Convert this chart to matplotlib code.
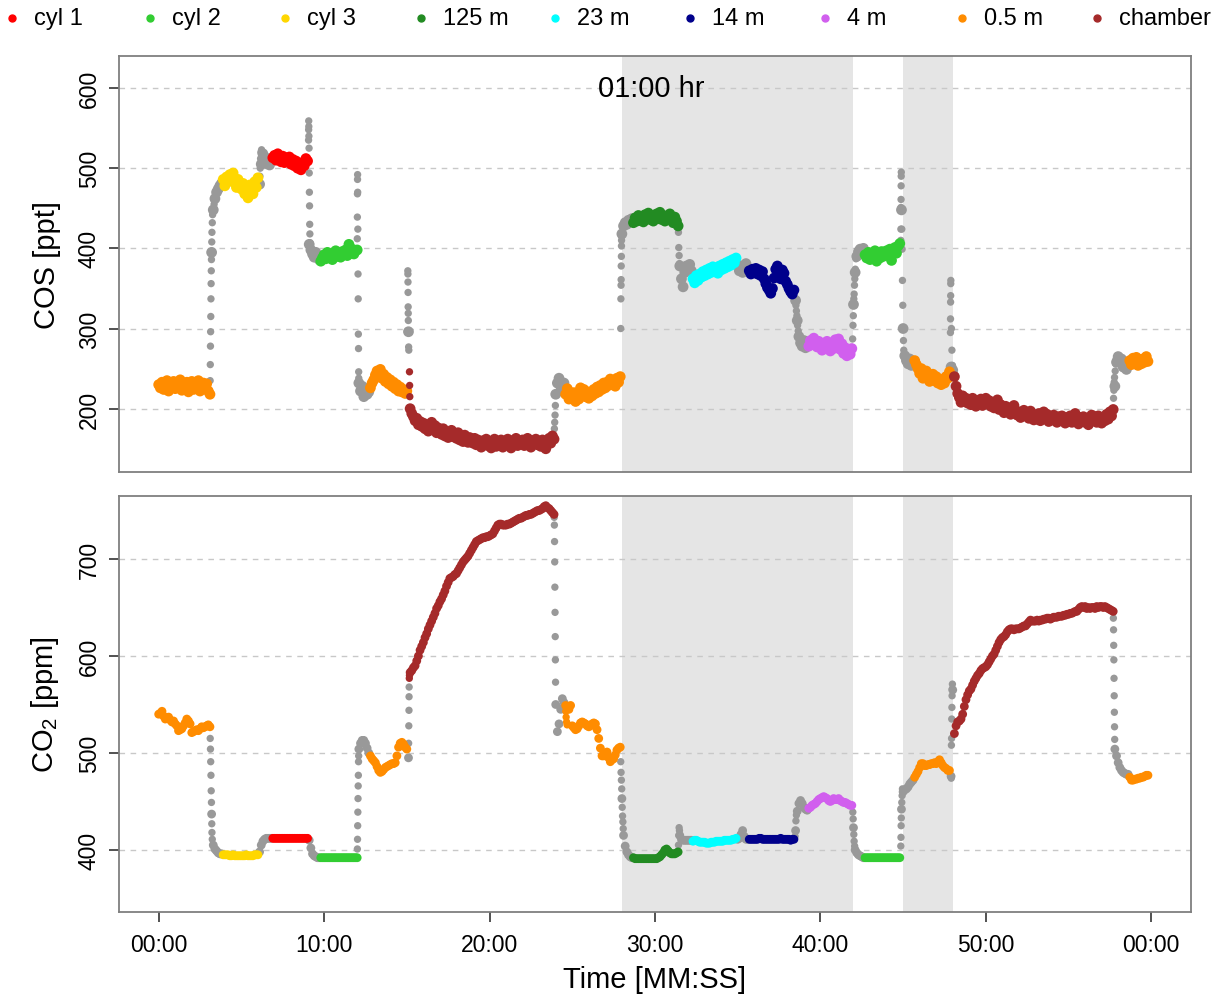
import numpy as np
import matplotlib.pyplot as plt
from matplotlib.lines import Line2D

plt.rcParams['font.family'] = ['Liberation Sans', 'DejaVu Sans']
plt.rcParams['mathtext.fontset'] = 'custom'
plt.rcParams['mathtext.rm'] = 'Liberation Sans'

# inlets and their colours (legend order)
labels = ["cyl 1", "cyl 2", "cyl 3", "125 m", "23 m", "14 m", "4 m", "0.5 m", "chamber"]
colors = ["#FF0000", "#32CD32", "#FFD700", "#228B22", "#00FFFF", "#00008B",
          "#D15FEE", "#FF8C00", "#A52A2A"]
grey = "#999999"

# sampling windows [min]; everything outside is flushing (grey)
win_label = ["0.5 m", "cyl 3", "cyl 1", "cyl 2", "0.5 m", "chamber", "0.5 m", "125 m",
             "23 m", "14 m", "4 m", "cyl 2", "0.5 m", "chamber", "0.5 m"]
win_start = [0.0, 3.9, 6.9, 9.8, 12.8, 15.15, 24.6, 28.7, 32.3, 35.7, 39.3, 42.7, 45.7, 48.05, 58.7]
win_end = [3.1, 6.05, 9.05, 12.0, 15.05, 23.9, 27.9, 31.4, 34.9, 38.45, 41.9, 44.85, 47.85, 57.7, 59.8]

# shaded periods [min]
shade_start = [28, 45]
shade_end = [42, 48]

# COS [ppt], one value every 0.1 min starting at 0, one row per minute
cos_ppt = [
    230, 226, 233, 224, 229, 235, 222, 231, 227, 234,
    225, 232, 228, 236, 223, 230, 226, 233, 221, 229,
    234, 224, 230, 227, 235, 222, 229, 232, 225, 231,
    222, 218, 395, 448, 462, 470, 474, 478, 481, 486,
    478, 489, 483, 492, 485, 494, 482, 476, 486, 479,
    474, 481, 468, 476, 463, 479, 472, 468, 483, 476,
    488, 480, 505, 518, 510, 506, 512, 504, 509, 513,
    516, 510, 518, 512, 508, 515, 507, 513, 509, 514,
    505, 511, 503, 509, 500, 506, 498, 507, 503, 512,
    509, 405, 398, 393, 389, 395, 390, 386, 384, 388,
    392, 387, 395, 389, 393, 386, 391, 397, 390, 394,
    389, 396, 392, 398, 391, 405, 394, 399, 393, 397,
    398, 232, 222, 228, 215, 225, 218, 221, 226, 232,
    236, 242, 247, 240, 249, 238, 243, 234, 239, 231,
    236, 228, 233, 225, 230, 222, 227, 221, 224, 219,
    222, 296, 200, 194, 190, 185, 188, 180, 184, 178,
    182, 175, 180, 172, 178, 183, 174, 179, 170, 176,
    172, 168, 175, 166, 171, 164, 170, 173, 165, 168,
    163, 170, 161, 166, 159, 167, 162, 158, 164, 160,
    157, 163, 155, 161, 158, 152, 160, 156, 162, 154,
    158, 151, 157, 162, 153, 159, 155, 161, 152, 158,
    155, 162, 157, 151, 160, 156, 163, 154, 159, 157,
    161, 154, 159, 163, 156, 152, 160, 157, 162, 155,
    158, 153, 161, 156, 150, 159, 163, 157, 166, 162,
    218, 232, 238, 228, 222, 232, 218, 225, 212, 220,
    214, 220, 209, 218, 212, 226, 219, 224, 215, 221,
    213, 220, 216, 224, 219, 227, 221, 229, 224, 232,
    226, 233, 229, 237, 231, 235, 228, 238, 233, 240,
    418, 428, 432, 430, 435, 433, 437, 432, 438, 434,
    441, 435, 439, 433, 442, 437, 444, 436, 440, 434,
    439, 443, 437, 445, 436, 441, 434, 440, 438, 443,
    437, 432, 439, 434, 428, 378, 362, 352, 370, 378,
    375, 380, 372, 362, 357, 366, 360, 368, 364, 371,
    366, 373, 368, 375, 370, 377, 371, 374, 369, 378,
    373, 380, 375, 382, 377, 384, 379, 386, 382, 388,
    379, 372, 378, 370, 376, 381, 374, 372, 368, 374,
    370, 375, 368, 373, 366, 371, 362, 356, 351, 348,
    344, 350, 363, 374, 378, 371, 362, 373, 369, 359,
    355, 350, 346, 343, 348, 335, 310, 290, 282, 278,
    285, 276, 283, 278, 285, 280, 288, 282, 277, 284,
    279, 273, 281, 276, 284, 278, 272, 280, 275, 286,
    280, 287, 274, 281, 269, 276, 266, 272, 268, 275,
    330, 370, 390, 396, 399, 394, 400, 392, 388, 395,
    386, 394, 389, 397, 384, 392, 388, 396, 390, 393,
    397, 391, 399, 385, 396, 401, 394, 403, 406, 448,
    300, 266, 260, 256, 262, 254, 258, 260, 255, 250,
    244, 250, 238, 243, 247, 241, 234, 239, 243, 235,
    240, 232, 237, 230, 236, 232, 240, 238, 246, 252,
    248, 240, 228, 219, 214, 208, 216, 210, 213, 207,
    211, 205, 213, 208, 203, 210, 206, 212, 204, 209,
    213, 206, 210, 203, 208, 201, 207, 211, 199, 205,
    200, 195, 203, 197, 201, 193, 199, 204, 196, 192,
    196, 189, 194, 198, 191, 195, 188, 197, 192, 186,
    191, 187, 194, 185, 190, 196, 188, 193, 184, 190,
    186, 192, 188, 183, 190, 185, 191, 187, 182, 189,
    185, 191, 183, 188, 194, 186, 181, 189, 184, 190,
    183, 188, 180, 187, 192, 185, 190, 183, 191, 186,
    182, 189, 185, 193, 187, 196, 191, 199, 228, 258,
    265, 258, 262, 252, 256, 249, 254, 260, 255, 263,
    257, 264, 254, 261, 256, 262, 258, 265, 259,
]

# COS samples caught during the fast valve switches
cos_jump_t = [3.11, 3.12, 3.13, 3.14, 3.15, 3.16, 3.17, 3.18, 3.19, 3.21, 3.22, 3.24, 3.26, 3.35,
              6.12, 6.14, 6.16, 6.18, 6.22,
              9.06, 9.065, 9.07, 9.075, 9.08, 9.09, 9.1, 9.11, 9.12, 9.13, 9.14, 9.15,
              12.005, 12.01, 12.015, 12.02, 12.025, 12.03, 12.04, 12.05, 12.06, 12.07, 12.08, 12.09, 12.095,
              15.06, 15.065, 15.07, 15.075, 15.08, 15.085, 15.09, 15.11, 15.12, 15.16, 15.17, 15.18,
              23.92, 23.94, 23.96, 23.98,
              27.93, 27.94, 27.95, 27.955, 27.96, 27.97, 27.975, 27.98, 27.99,
              31.42, 31.44, 31.46, 31.48,
              38.52, 38.55, 38.58, 38.62, 38.66,
              41.95, 41.97, 41.99, 42.02, 42.04, 42.06, 42.08, 42.11, 42.15,
              44.86, 44.865, 44.87, 44.875, 44.88, 44.885, 44.89, 44.92, 44.94, 44.96, 44.98, 45.02, 45.04, 45.06,
              47.86, 47.865, 47.87, 47.875, 47.88, 47.885, 47.92, 47.95, 47.98,
              57.72, 57.74, 57.76, 57.78, 57.82, 57.85, 57.88]
cos_jump_v = [235, 255, 278, 296, 315, 337, 356, 372, 386, 408, 420, 432, 442, 455,
              490, 500, 512, 520, 523,
              535, 548, 559, 552, 540, 525, 494, 470, 453, 430, 418, 407,
              412, 439, 468, 486, 492, 470, 424, 368, 337, 293, 275, 246, 238,
              372, 368, 358, 345, 327, 319, 310, 277, 273, 246, 229, 215,
              175, 183, 192, 204,
              300, 337, 354, 361, 378, 390, 403, 410, 415,
              420, 401, 391, 381,
              329, 322, 316, 304, 297,
              287, 304, 316, 337, 343, 354, 362, 374, 387,
              410, 424, 451, 461, 478, 490, 495, 424, 399, 360, 329, 285, 273, 266,
              295, 312, 333, 341, 356, 360, 300, 273, 254,
              213, 223, 233, 239, 247, 256, 262]

# CO2 [ppm], one value every 0.1 min starting at 0, one row per minute
co2_ppm = [
    540, 541, 543, 538, 535, 536, 537, 534, 532, 533,
    530, 528, 523, 524, 525, 528, 531, 535, 533, 530,
    521, 522, 523, 524, 523, 525, 527, 526, 527, 528,
    529, 527, 437, 405, 401, 399, 397, 396, 396, 395,
    395, 395, 395, 394, 394, 395, 394, 394, 394, 394,
    394, 394, 394, 395, 394, 394, 394, 394, 395, 395,
    395, 398, 405, 409, 411, 412, 412, 412, 412, 412,
    412, 412, 412, 412, 412, 412, 412, 412, 412, 412,
    412, 412, 412, 412, 412, 412, 412, 412, 412, 412,
    412, 410, 402, 396, 394, 393, 392, 392, 392, 392,
    392, 392, 392, 392, 392, 392, 392, 392, 392, 392,
    392, 392, 392, 392, 392, 392, 392, 392, 392, 392,
    392, 504, 510, 513, 513, 510, 505, 500, 497, 494,
    492, 490, 486, 482, 480, 481, 483, 485, 486, 487,
    488, 489, 489, 490, 497, 506, 510, 511, 509, 506,
    504, 495, 583, 585, 588, 590, 595, 600, 606, 610,
    614, 619, 623, 628, 632, 636, 640, 644, 649, 652,
    656, 659, 663, 667, 672, 676, 680, 681, 682, 684,
    685, 688, 691, 694, 697, 699, 701, 703, 706, 709,
    712, 715, 718, 719, 720, 721, 722, 722, 723, 723,
    724, 725, 726, 729, 732, 735, 736, 736, 735, 735,
    735, 736, 736, 737, 738, 739, 740, 741, 742, 742,
    743, 744, 745, 745, 746, 746, 747, 748, 749, 750,
    750, 751, 752, 754, 755, 753, 752, 750, 748, 746,
    550, 522, 530, 545, 556, 552, 549, 546, 545, 549,
    528, 526, 524, 525, 528, 531, 532, 531, 530, 528,
    527, 528, 530, 531, 530, 524, 515, 505, 497, 497,
    500, 501, 495, 491, 493, 494, 498, 503, 505, 506,
    453, 415, 404, 398, 395, 393, 392, 392, 391, 391,
    391, 391, 391, 391, 391, 391, 391, 391, 391, 391,
    391, 391, 392, 393, 395, 397, 400, 401, 399, 397,
    396, 396, 396, 397, 398, 415, 411, 410, 410, 410,
    410, 410, 410, 409, 410, 410, 409, 408, 408, 408,
    408, 407, 407, 407, 408, 408, 408, 409, 409, 409,
    409, 409, 410, 410, 410, 410, 410, 411, 411, 412,
    411, 412, 416, 420, 414, 411, 411, 411, 411, 411,
    411, 411, 411, 412, 412, 411, 411, 411, 411, 411,
    411, 411, 411, 411, 411, 411, 412, 411, 411, 411,
    411, 411, 410, 411, 411, 420, 440, 448, 451, 448,
    444, 442, 441, 443, 444, 446, 447, 448, 450, 452,
    453, 454, 455, 454, 453, 451, 450, 451, 453, 452,
    452, 453, 451, 450, 449, 449, 448, 447, 446, 446,
    423, 400, 397, 395, 394, 393, 392, 392, 392, 392,
    392, 392, 392, 392, 392, 392, 392, 392, 392, 392,
    392, 392, 392, 392, 392, 392, 392, 392, 392, 442,
    460, 462, 463, 465, 468, 470, 472, 475, 478, 481,
    485, 489, 489, 487, 487, 488, 488, 489, 489, 490,
    489, 491, 493, 490, 487, 485, 484, 482, 482, 476,
    565, 520, 528, 532, 533, 535, 540, 548, 555, 560,
    564, 566, 570, 574, 577, 580, 582, 585, 587, 588,
    589, 591, 594, 597, 600, 602, 606, 610, 614, 617,
    619, 620, 622, 625, 627, 628, 628, 627, 628, 628,
    628, 629, 630, 631, 631, 633, 635, 637, 636, 636,
    636, 637, 636, 637, 637, 638, 638, 639, 639, 638,
    639, 640, 640, 640, 641, 641, 641, 642, 642, 643,
    643, 644, 644, 645, 646, 646, 648, 650, 651, 650,
    651, 649, 650, 649, 650, 650, 649, 651, 650, 651,
    651, 650, 651, 650, 649, 648, 647, 646, 504, 497,
    490, 485, 482, 480, 479, 478, 478, 475, 472, 472,
    473, 473, 474, 474, 475, 475, 476, 477, 477,
]

co2_jump_t = [3.115, 3.13, 3.145, 3.16, 3.175, 3.19, 3.21, 3.22, 3.24,
              12.01, 12.02, 12.03, 12.04, 12.05, 12.06, 12.07, 12.08, 12.09,
              15.11, 15.12, 15.13, 15.135, 15.14, 15.15, 15.16,
              23.91, 23.92, 23.93, 23.94, 23.95, 23.96, 23.97, 23.98, 23.99,
              24.61, 24.63, 24.66, 24.69,
              27.93, 27.95, 27.97, 27.99, 28.02, 28.04, 28.06, 28.08,
              31.42, 31.44, 31.46, 31.48,
              38.47, 38.52, 38.55,
              41.96, 41.98, 42.02, 42.04, 42.07,
              44.86, 44.87, 44.88, 44.89, 44.92, 44.94, 44.96,
              47.91, 47.92, 47.93, 47.94, 47.95, 47.96, 47.97, 47.98,
              57.71, 57.72, 57.73, 57.74, 57.75, 57.76, 57.77, 57.78, 57.79]
co2_jump_v = [515, 504, 491, 477, 461, 449, 427, 418, 411,
              401, 411, 425, 439, 453, 466, 477, 491, 497,
              510, 528, 544, 558, 568, 577, 580,
              743, 735, 718, 697, 671, 645, 620, 596, 573,
              543, 537, 532, 529,
              491, 480, 472, 463, 444, 435, 429, 422,
              405, 415, 423, 420,
              414, 430, 436,
              439, 432, 416, 409, 404,
              404, 413, 425, 433, 449, 456, 463,
              474, 508, 515, 535, 547, 559, 566, 571,
              639, 627, 611, 596, 577, 559, 542, 527, 514]

xtick_min = [0, 10, 20, 30, 40, 50, 60]
xtick_lab = ["00:00", "10:00", "20:00", "30:00", "40:00", "50:00", "00:00"]


def colour_of(t):
    c = np.array([grey] * len(t), dtype=object)
    for lab, a, b in zip(win_label, win_start, win_end):
        c[(t >= a - 1e-6) & (t <= b + 1e-6)] = colors[labels.index(lab)]
    return c


def draw(ax, grid_v, jump_t, jump_v, s_grid, s_jump):
    t = np.concatenate([np.round(np.arange(len(grid_v)) * 0.1, 2), jump_t])
    v = np.concatenate([grid_v, jump_v]).astype(float)
    s = np.r_[np.full(len(grid_v), s_grid), np.full(len(jump_t), s_jump)]
    c = colour_of(t)
    g = c == grey
    ax.scatter(t[g], v[g], s=s[g], c=grey, linewidths=0, zorder=2)
    ax.scatter(t[~g], v[~g], s=s[~g], c=list(c[~g]), linewidths=0, zorder=3)


def style(ax, yticks, ylim):
    ax.set_xlim(-2.4, 62.4)
    ax.set_ylim(*ylim)
    for a, b in zip(shade_start, shade_end):
        ax.axvspan(a, b, color="#E5E5E5", lw=0, zorder=0)
    for y in yticks:
        ax.axhline(y, color="#C8C8C8", lw=1, ls=(0, (4, 4)), zorder=1)
    ax.set_yticks(yticks)
    ax.tick_params(axis="y", labelrotation=90, length=7, width=1.2, color="#333333",
                   labelsize=16.5, pad=6)
    for sp in ax.spines.values():
        sp.set_color("#7F7F7F")
        sp.set_linewidth(1.3)


fig = plt.figure(figsize=(12.19, 10.03), dpi=100)
ax1 = fig.add_axes([0.0976, 0.5284, 0.8794, 0.4148])
ax2 = fig.add_axes([0.0976, 0.0897, 0.8794, 0.4148])

style(ax1, [200, 300, 400, 500, 600], (121, 640))
style(ax2, [400, 500, 600, 700], (336, 765))
for lab in ax1.get_yticklabels() + ax2.get_yticklabels():
    lab.set_va("center")

draw(ax1, cos_ppt, cos_jump_t, cos_jump_v, 60, 28)
draw(ax2, co2_ppm, co2_jump_t, co2_jump_v, 40, 28)

ax1.tick_params(axis="x", bottom=False, labelbottom=False)
ax2.set_xticks(xtick_min)
ax2.set_xticklabels(xtick_lab)
ax2.tick_params(axis="x", length=7, width=1.2, color="#333333", labelsize=16.5, pad=8)

ax1.text(29.8, 600, "01:00 hr", ha="center", va="center", fontsize=21)

ax1.set_ylabel("COS [ppt]", fontsize=21)
ax1.yaxis.set_label_coords(-0.054, 0.5)
ax2.set_ylabel("CO$_\\mathrm{2}$ [ppm]", fontsize=21)
ax2.yaxis.set_label_coords(-0.054, 0.5)
ax2.set_xlabel("Time [MM:SS]", fontsize=21)
ax2.xaxis.set_label_coords(0.5, -0.128)

# legend row along the top edge
leg_x = [12, 150, 285, 421, 555, 690, 825, 962, 1097]
for x, lab, col in zip(leg_x, labels, colors):
    fig.add_artist(Line2D([x / 1219], [0.981], marker="o", ms=5, color=col,
                          ls="none", transform=fig.transFigure))
    fig.text((x + 22) / 1219, 0.981, lab, va="center", ha="left", fontsize=17)

fig.savefig("out.png", dpi=100)
